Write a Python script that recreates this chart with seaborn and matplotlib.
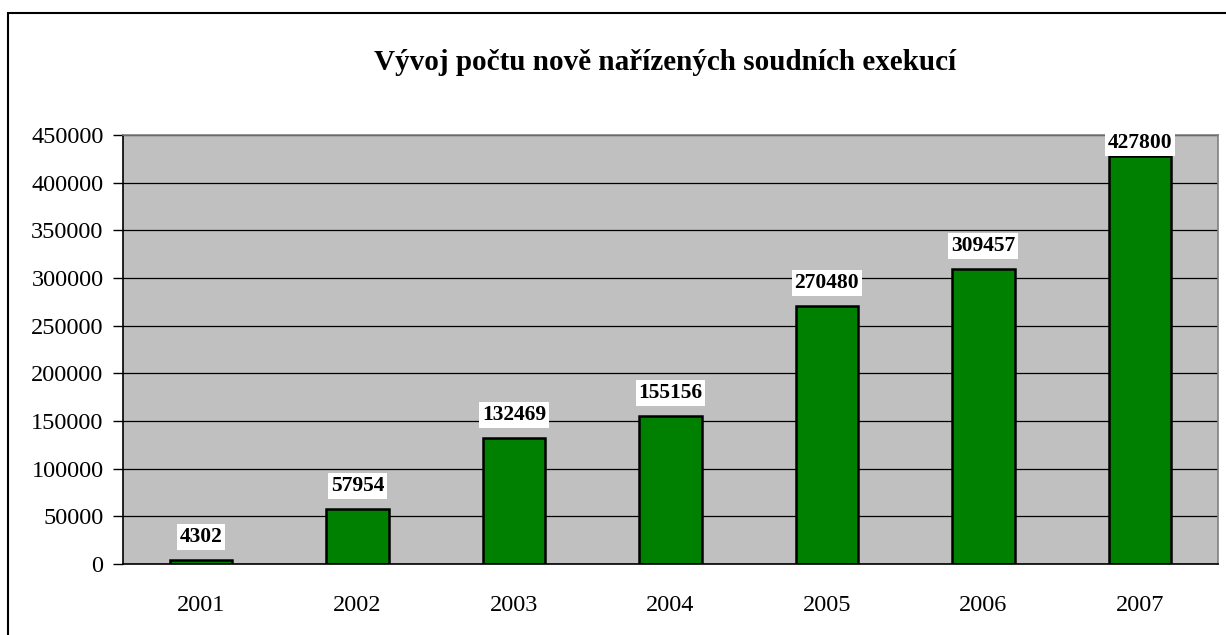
import pandas as pd
import matplotlib.pyplot as plt
import seaborn as sns
from matplotlib.patches import Rectangle

roky = ['2001', '2002', '2003', '2004', '2005', '2006', '2007']
exekuce = [4302, 57954, 132469, 155156, 270480, 309457, 427800]

df = pd.DataFrame({'rok': roky, 'pocet': exekuce})

sns.set_style('white')
plt.rcParams['font.family'] = ['Liberation Serif', 'DejaVu Serif']
plt.rcParams['text.color'] = 'black'
plt.rcParams['xtick.color'] = 'black'
plt.rcParams['ytick.color'] = 'black'

fig = plt.figure(figsize=(12.26, 6.35), dpi=100)
ax = fig.add_axes([0.1003, 0.1118, 0.8932, 0.6756])
ax.set_facecolor('#C0C0C0')

sns.barplot(data=df, x='rok', y='pocet', color='#008000', edgecolor='black',
            linewidth=1.8, width=0.4, saturation=1, ax=ax)

ax.set_ylim(0, 450000)
ax.set_xlim(-0.5, 6.5)
ax.set_yticks(range(0, 450001, 50000))
ax.yaxis.grid(True, color='black', linewidth=0.9)
ax.set_axisbelow(True)

ax.set_xticks([i - 0.5 for i in range(8)], minor=True)
ax.tick_params(axis='x', which='major', length=0, pad=22, labelsize=17.5)
ax.tick_params(axis='x', which='minor', length=7, width=1, color='black', direction='out')
ax.tick_params(axis='y', length=7, width=1, color='black', direction='out', pad=7, labelsize=17.5)
ax.tick_params(left=True, bottom=True)

for s in ['left', 'bottom']:
    ax.spines[s].set_color('black')
    ax.spines[s].set_linewidth(1.2)
for s in ['top', 'right']:
    ax.spines[s].set_color('#808080')
    ax.spines[s].set_linewidth(1.2)

ax.set_xlabel('')
ax.set_ylabel('')

for i, v in enumerate(exekuce):
    y = min(v + 24000, 441600)
    ax.text(i, y, str(v), ha='center', va='center', fontsize=15.5, fontweight='bold',
            color='black', bbox=dict(facecolor='white', edgecolor='none', pad=2))

fig.text(0.5425, 0.902, 'Vývoj počtu nově nařízených soudních exekucí', ha='center',
         va='center', fontsize=21, fontweight='bold', color='black')

fig.patches.append(Rectangle((8 / 1226, -0.1), 1.2, 1.1 - 13 / 635, transform=fig.transFigure,
                             fill=False, edgecolor='black', linewidth=1.5))

fig.savefig('out.png', dpi=100)
